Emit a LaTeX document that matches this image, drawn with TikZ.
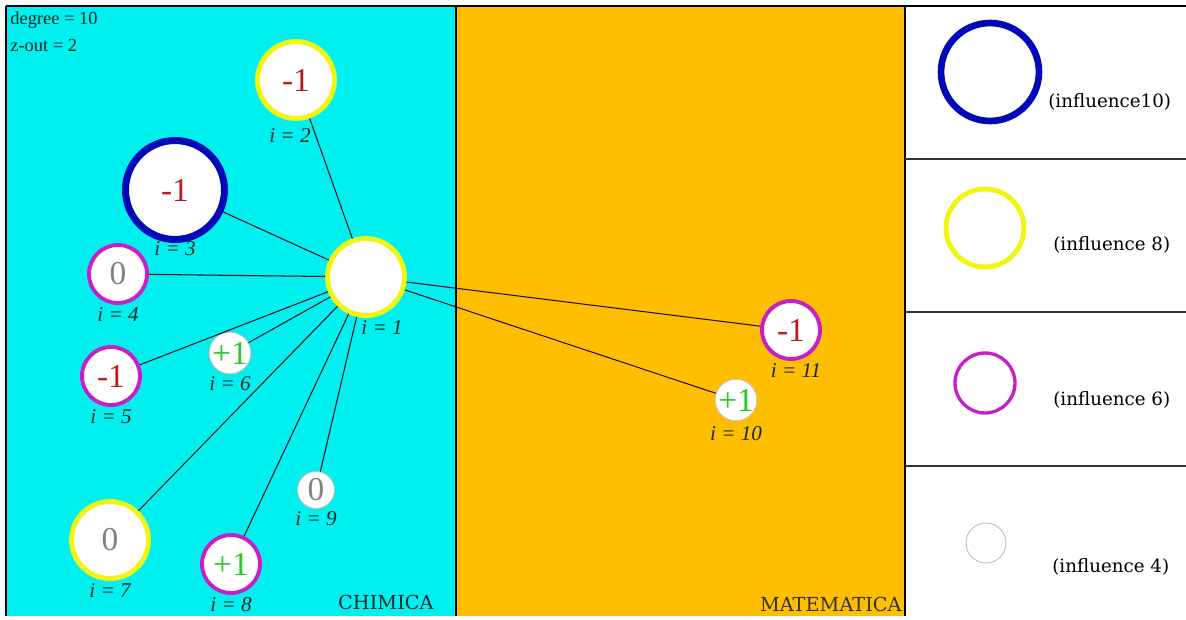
\documentclass[tikz,border=0pt]{standalone}
\usepackage{fontspec}
\setmainfont{DejaVu Serif}
\newfontfamily\valfont{Liberation Serif}
\usepackage{xcolor}
\usetikzlibrary{positioning}
\definecolor{chimcyan}{RGB}{0,240,240}
\definecolor{matorange}{RGB}{255,190,0}
\definecolor{infblue}{RGB}{0,10,185}
\definecolor{infyellow}{RGB}{240,245,20}
\definecolor{infmagenta}{RGB}{200,30,200}
\definecolor{inflight}{RGB}{200,190,190}
\definecolor{valred}{RGB}{185,30,30}
\definecolor{valgreen}{RGB}{40,200,40}
\definecolor{valgray}{RGB}{130,130,130}
\definecolor{edgecol}{RGB}{45,15,35}
\definecolor{txtdark}{RGB}{20,40,40}

\begin{document}
\begin{tikzpicture}[x=0.02cm,y=-0.02cm,
    agent/.style={circle,fill=white,inner sep=0pt,font=\valfont\fontsize{19}{19}\selectfont},
    inften/.style={agent,draw=infblue,line width=4pt,minimum size=1.98cm},
    infeight/.style={agent,draw=infyellow,line width=2.8pt,minimum size=1.54cm},
    infsix/.style={agent,draw=infmagenta,line width=2.2pt,minimum size=1.16cm},
    inffour/.style={agent,draw=inflight,line width=0.5pt,minimum size=0.74cm},
    idx/.style={font=\valfont\fontsize{12}{12}\selectfont\itshape,text=txtdark,inner sep=0pt},
    every label/.style={idx},
    label distance=1pt,
    link/.style={draw=edgecol,line width=0.6pt},
    legtext/.style={font=\fontsize{10.4}{10.4}\selectfont,anchor=west,inner sep=0pt}]
    \useasboundingbox (0,0) rectangle (1186,619);

    % Panels
    \fill[chimcyan] (6,6) rectangle (456,616);
    \fill[matorange] (456,6) rectangle (905,616);
    \draw[line width=1.6pt] (6,6) -- (1186,6);
    \draw[line width=0.6pt] (6,6) -- (6,616);
    \draw[line width=0.6pt] (456,6) -- (456,616);
    \draw[line width=0.7pt] (905,6) -- (905,616);
    \foreach \y in {159,312,466}
        \draw[line width=0.6pt,black!80] (905,\y) -- (1186,\y);

    % Info and area names
    \node[anchor=west,font=\valfont\fontsize{10.5}{10.5}\selectfont,text=txtdark,inner sep=0pt] (deg) at (10,20) {degree = 10};
    \node[anchor=west,font=\valfont\fontsize{10.5}{10.5}\selectfont,text=txtdark,inner sep=0pt] (zout) at (10,45) {z-out = 2};
    \node[anchor=east,font=\fontsize{11}{11}\selectfont,text=txtdark,inner sep=0pt] (chim) at (434,602) {CHIMICA};
    \node[anchor=east,font=\fontsize{11}{11}\selectfont,text=black!80,inner sep=0pt] (mat) at (902,604) {MATEMATICA};

    % Agents
    \node[infeight,label={[xshift=0.32cm]below:i = 1}] (n1) at (366,277) {};
    \node[infeight,text=valred,label={[xshift=-0.12cm,label distance=4pt]below:i = 2}] (n2) at (296,80) {-1};
    \node[inften,text=valred,label={[label distance=-1pt]below:i = 3}] (n3) at (175,190) {-1};
    \node[infsix,text=valgray,label={below:i = 4}] (n4) at (118,274) {0};
    \node[infsix,text=valred,label={below:i = 5}] (n5) at (111,376) {-1};
    \node[inffour,text=valgreen,label={below:i = 6}] (n6) at (230,353) {+1};
    \node[infeight,text=valgray,label={below:i = 7}] (n7) at (110,540) {0};
    \node[infsix,text=valgreen,label={below:i = 8}] (n8) at (231,564) {+1};
    \node[inffour,text=valgray,label={below:i = 9}] (n9) at (316,490) {0};
    \node[inffour,text=valgreen,label={[label distance=3pt]below:i = 10}] (n10) at (736,400) {+1};
    \node[infsix,text=valred,label={[xshift=0.1cm]below:i = 11}] (n11) at (791,330) {-1};

    % Links
    \foreach \j in {2,...,11}
        \draw[link] (n1) -- (n\j);

    % Legend
    \node[agent,draw=infblue,line width=3.8pt,minimum size=1.96cm] (leg10) at (990,72) {};
    \node[agent,draw=infyellow,line width=2.8pt,minimum size=1.56cm] (leg8) at (985,228) {};
    \node[agent,draw=infmagenta,line width=1.9pt,minimum size=1.2cm] (leg6) at (985,383) {};
    \node[agent,draw=inflight!70!brown,line width=0.4pt,minimum size=0.8cm] (leg4) at (986,543) {};
    \node[legtext] (t10) at (1048,102) {(influence10)};
    \node[legtext] (t8) at (1053,245) {(influence 8)};
    \node[legtext] (t6) at (1053,400) {(influence 6)};
    \node[legtext] (t4) at (1052,567) {(influence 4)};
\end{tikzpicture}
\end{document}
